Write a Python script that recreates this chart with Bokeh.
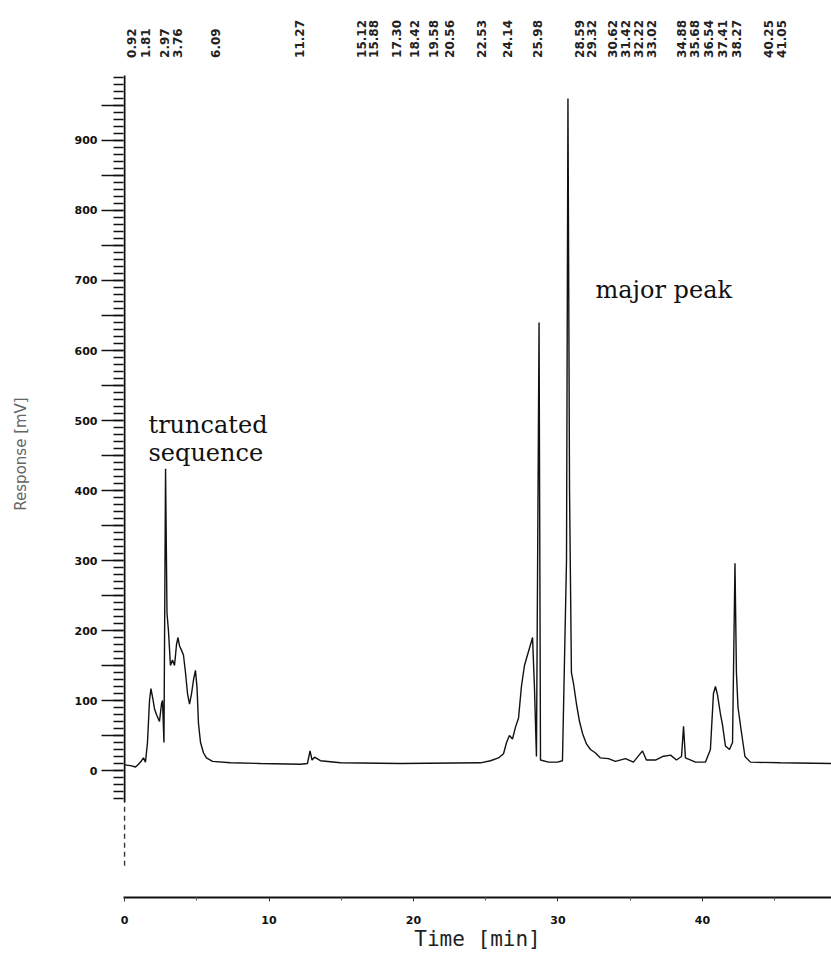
import math
from bokeh.plotting import figure
from bokeh.models import Range1d, FixedTicker
from bokeh.core.properties import value
from bokeh.embed import file_html
from bokeh.resources import INLINE

# ---- chromatogram trace (time in min, response in mV) ----
time_min = [0.00, 0.42, 0.76, 0.97, 1.18, 1.31, 1.45, 1.59, 1.73, 1.83, 1.94, 2.08,
             2.21, 2.42, 2.56, 2.63, 2.73, 2.84, 2.94, 3.04, 3.18, 3.32, 3.46, 3.60,
             3.70, 3.81, 3.94, 4.08, 4.22, 4.36, 4.50, 4.64, 4.78, 4.91, 5.02, 5.12,
             5.26, 5.47, 5.67, 6.09, 7.34, 9.41, 12.18, 12.66, 12.84, 12.98, 13.15,
             13.56, 14.95, 19.10, 24.64, 25.33, 25.88, 26.23, 26.44, 26.64, 26.85,
             27.06, 27.27, 27.47, 27.68, 27.82, 28.03, 28.24, 28.37, 28.51, 28.69,
             28.79, 29.34, 29.97, 30.31, 30.59, 30.69, 30.80, 30.93, 31.07, 31.28,
             31.49, 31.70, 31.97, 32.25, 32.60, 32.94, 33.49, 33.98, 34.67, 35.22,
             35.85, 36.12, 36.75, 37.23, 37.79, 38.20, 38.55, 38.69, 38.82, 39.52,
             40.21, 40.55, 40.76, 40.90, 41.04, 41.25, 41.38, 41.59, 41.87, 42.08,
             42.25, 42.35, 42.46, 42.66, 42.94, 43.32, 45.40, 48.93]
response_mv = [8, 7, 5, 9, 14, 18, 12, 40, 100, 117, 105, 88,
               80, 70, 95, 100, 40, 431, 225, 200, 150, 158, 150, 180,
               190, 178, 172, 165, 140, 110, 95, 110, 130, 143, 118, 67,
               40, 25, 18, 13, 11, 10, 9, 10, 28, 15, 19,
               14, 11, 10, 11, 14, 18, 24, 40, 50, 45,
               62, 75, 120, 150, 160, 175, 190, 120, 20, 640,
               15, 12, 12, 14, 300, 960, 400, 140, 125, 95,
               70, 53, 38, 30, 25, 18, 17, 13, 17, 12,
               28, 15, 15, 20, 22, 15, 20, 63, 18, 12,
               12, 30, 110, 120, 108, 80, 66, 35, 30, 40,
               296, 140, 90, 60, 20, 12, 11, 10]

# ---- retention-time labels printed along the top ----
rt_labels = ["0.92", "1.81", "2.97", "3.76", "6.09", "11.27", "15.12", "15.88",
             "17.30", "18.42", "19.58", "20.56", "22.53", "24.14", "25.98",
             "28.59", "29.32", "30.62", "31.42", "32.22", "33.02", "34.88",
             "35.68", "36.54", "37.41", "38.27", "40.25", "41.05"]
rt_label_pos = [0.48, 1.45, 2.77, 3.67, 6.30, 12.11, 16.40, 17.23,
                18.82, 20.07, 21.38, 22.49, 24.71, 26.51, 28.58,
                31.49, 32.32, 33.77, 34.67, 35.57, 36.47, 38.55,
                39.45, 40.42, 41.38, 42.35, 44.57, 45.47]
rt_label_level = 1018

# ---- annotations ----
note_text = ["truncated", "sequence", "major peak"]
note_x = [1.66, 1.66, 32.6]
note_y = [493, 454, 686]

# ---- axes ----
x_ticks = [0, 10, 20, 30, 40]
x_minor = [5, 15, 25, 35, 45]
y_major = list(range(0, 1000, 50))
y_minor = list(range(-40, 1000, 10))
y_labels = {v: ("" if v % 100 else str(v)) for v in y_major}
axis_top, axis_bottom, axis_dash_end = 993, -45, -136

p = figure(width=831, height=956,
           x_range=Range1d(-0.07, 48.93), y_range=Range1d(-181.4, 1085.7),
           output_backend="svg", toolbar_location=None,
           min_border_left=123, min_border_right=0,
           min_border_top=10, min_border_bottom=59)
p.outline_line_color = None
p.grid.visible = False
p.background_fill_color = "white"
p.border_fill_color = "white"

# y axis
ya = p.yaxis[0]
ya.ticker = FixedTicker(ticks=y_major, minor_ticks=y_minor)
ya.major_label_overrides = y_labels
ya.axis_line_color = None
ya.major_tick_out = 22
ya.major_tick_in = 0
ya.minor_tick_out = 10
ya.minor_tick_in = 0
ya.major_tick_line_width = 1.5
ya.minor_tick_line_width = 1.5
ya.major_tick_line_color = "#111111"
ya.minor_tick_line_color = "#111111"
ya.major_label_standoff = 4
ya.major_label_text_font = "DejaVu Sans"
ya.major_label_text_font_style = "bold"
ya.major_label_text_font_size = "11px"
ya.major_label_text_color = "#111111"
ya.axis_label = "Response [mV]"
ya.axis_label_text_font = "DejaVu Sans"
ya.axis_label_text_font_style = "normal"
ya.axis_label_text_font_size = "15px"
ya.axis_label_text_color = "#666666"
ya.axis_label_standoff = 42

# x axis
xa = p.xaxis[0]
xa.ticker = FixedTicker(ticks=x_ticks, minor_ticks=x_minor)
xa.axis_line_width = 2
xa.axis_line_color = "#111111"
xa.major_tick_out = 4
xa.major_tick_in = 0
xa.minor_tick_out = 3
xa.minor_tick_in = 0
xa.major_tick_line_color = "#333333"
xa.minor_tick_line_color = "#555555"
xa.major_label_standoff = 14
xa.major_label_text_font = "DejaVu Sans"
xa.major_label_text_font_style = "bold"
xa.major_label_text_font_size = "11px"
xa.major_label_text_color = "#111111"
xa.axis_label = "Time [min]"
xa.axis_label_text_font = "DejaVu Sans Mono"
xa.axis_label_text_font_style = "normal"
xa.axis_label_text_font_size = "21px"
xa.axis_label_text_color = "#222222"
xa.axis_label_standoff = 0

# y spine (solid, then dashed continuation)
p.segment(x0=[0], y0=[axis_bottom], x1=[0], y1=[axis_top],
          line_color="#111111", line_width=2)
p.segment(x0=[0], y0=[axis_dash_end], x1=[0], y1=[axis_bottom],
          line_color="#333333", line_width=1.5, line_dash="5 4")

# trace
p.line(time_min, response_mv, line_color="#111111", line_width=1.4)

# retention time labels
p.text(x=rt_label_pos, y=[rt_label_level] * len(rt_labels), text=rt_labels,
       angle=math.pi / 2, text_align="left", text_baseline="middle",
       text_font=value("DejaVu Sans"), text_font_style="bold",
       text_font_size="12px", text_color="#222222")

# annotations
p.text(x=note_x, y=note_y, text=note_text, text_align="left",
       text_baseline="alphabetic", text_font=value("DejaVu Serif"),
       text_font_size="24px", text_color="#111111")

open("out.html", "w").write(file_html(p, INLINE))
